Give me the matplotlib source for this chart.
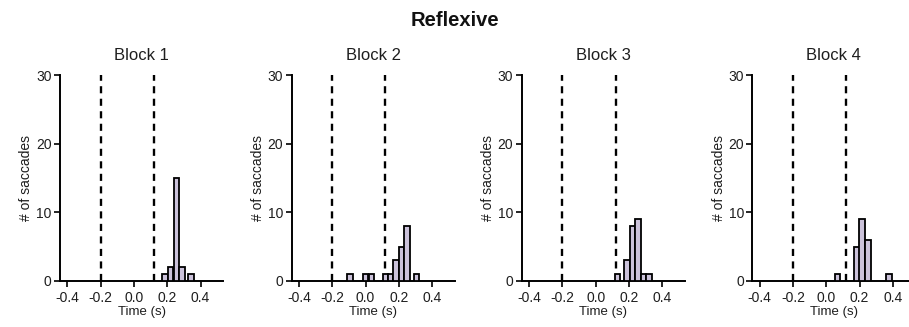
import matplotlib
matplotlib.use("Agg")
import matplotlib.pyplot as plt

plt.rcParams['font.family'] = ['Liberation Sans', 'DejaVu Sans']

suptitle = "Reflexive"
block_titles = ["Block 1", "Block 2", "Block 3", "Block 4"]

bin_width = 1 / 30
# bin centers (s) and counts
b1_centers = [0.187, 0.220, 0.255, 0.288, 0.343]
b1_counts = [1, 2, 15, 2, 1]
b2_centers = [-0.094, 0.000, 0.036, 0.121, 0.151, 0.184, 0.217, 0.249, 0.306]
b2_counts = [1, 1, 1, 1, 1, 3, 5, 8, 1]
b3_centers = [0.130, 0.188, 0.221, 0.254, 0.287, 0.320]
b3_counts = [1, 3, 8, 9, 1, 1]
b4_centers = [0.068, 0.183, 0.216, 0.250, 0.376]
b4_counts = [1, 5, 9, 6, 1]

dashed_lines = [-0.2, 0.12]
xticks = [-0.4, -0.2, 0.0, 0.2, 0.4]
xtick_labels = ["-0.4", "-0.2", "0.0", "0.2", "0.4"]
yticks = [0, 10, 20, 30]

centers_all = [b1_centers, b2_centers, b3_centers, b4_centers]
counts_all = [b1_counts, b2_counts, b3_counts, b4_counts]

W, H = 909, 327
fig = plt.figure(figsize=(W / 100, H / 100), dpi=100)
fig.text(0.5, 1 - 21 / H, suptitle, ha='center', va='center',
         fontsize=14.5, fontweight='bold', color='#111')

lefts_px = [60, 291.5, 521.7, 752.3]
ax_w_px = 163
bottom_px = 281
top_px = 75

text_col = '#1e1e1e'
bar_fill = '#cbc2da'

for i in range(4):
    ax = fig.add_axes([lefts_px[i] / W, 1 - bottom_px / H,
                       ax_w_px / W, (bottom_px - top_px) / H])
    ax.bar(centers_all[i], counts_all[i], width=bin_width, color=bar_fill,
           edgecolor='black', linewidth=1.3, zorder=3)
    for xv in dashed_lines:
        ax.axvline(xv, color='black', linewidth=1.7, linestyle=(0, (3.0, 2.3)),
                   zorder=2)
    ax.set_xlim(-0.445, 0.535)
    ax.set_ylim(0, 30)
    ax.set_xticks(xticks)
    ax.set_xticklabels(xtick_labels)
    ax.set_yticks(yticks)
    for s in ['top', 'right']:
        ax.spines[s].set_visible(False)
    for s in ['left', 'bottom']:
        ax.spines[s].set_linewidth(1.4)
        ax.spines[s].set_color('black')
    ax.tick_params(axis='x', pad=3)
    ax.tick_params(axis='y', pad=2)
    ax.tick_params(axis='both', direction='out', length=4, width=1.2,
                   labelsize=10, colors='black', labelcolor=text_col)
    ax.set_title(block_titles[i], fontsize=12, color=text_col, pad=11)
    ax.set_xlabel("Time (s)", fontsize=9.5, color=text_col, labelpad=1)
    ax.set_ylabel("# of saccades", fontsize=10, color=text_col, labelpad=2)

fig.savefig("out.png", dpi=100)
